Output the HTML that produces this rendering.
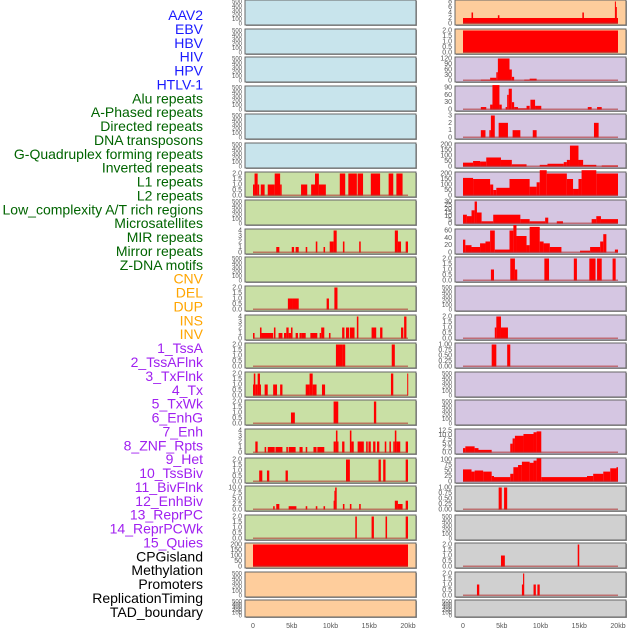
<!DOCTYPE html>
<html><head><meta charset="utf-8"><style>
html,body{margin:0;padding:0;background:#fff;width:630px;height:630px;overflow:hidden}
svg{display:block}
</style></head><body>
<svg id="chart" width="630" height="630" xmlns="http://www.w3.org/2000/svg" font-family="Liberation Sans, sans-serif"></svg>
<script>
// ---- data ----
const trackLabels = ["AAV2","EBV","HBV","HIV","HPV","HTLV-1","Alu repeats","A-Phased repeats","Directed repeats","DNA transposons","G-Quadruplex forming repeats","Inverted repeats","L1 repeats","L2 repeats","Low_complexity A/T rich regions","Microsatellites","MIR repeats","Mirror repeats","Z-DNA motifs","CNV","DEL","DUP","INS","INV","1_TssA","2_TssAFlnk","3_TxFlnk","4_Tx","5_TxWk","6_EnhG","7_Enh","8_ZNF_Rpts","9_Het","10_TssBiv","11_BivFlnk","12_EnhBiv","13_ReprPC","14_ReprPCWk","15_Quies","CPGisland","Methylation","Promoters","ReplicationTiming","TAD_boundary"];
const labelGroups = ["v","v","v","v","v","v","r","r","r","r","r","r","r","r","r","r","r","r","r","s","s","s","s","s","c","c","c","c","c","c","c","c","c","c","c","c","c","c","c","o","o","o","o","o"];
const xTickLabels = ["0","5kb","10kb","15kb","20kb"];
const xTickValues = [0,5,10,15,20];
const emptyTicks = [0,100,200,300,400,500];
// left column tracks: [startKb,endKb,value]
const leftTicks = [null,null,null,null,null,null,[0,0.5,1,1.5,2],null,[0,1,2,3,4],null,[0,0.5,1,1.5,2],[0,1,2,3,4],[0,0.5,1,1.5,2],[0,0.5,1,1.5,2],[0,0.5,1,1.5,2],[0,1,2,3,4],[0,0.5,1,1.5,2],[0,2.5,5,7.5,10],[0,0.5,1,1.5,2],[0,50,100,150,200],null,null];
const leftTickText = [null,null,null,null,null,null,["0.0","0.5","1.0","1.5","2.0"],null,null,null,["0.0","0.5","1.0","1.5","2.0"],null,["0.0","0.5","1.0","1.5","2.0"],["0.0","0.5","1.0","1.5","2.0"],["0.0","0.5","1.0","1.5","2.0"],null,["0.0","0.5","1.0","1.5","2.0"],["0.0","2.5","5.0","7.5","10.0"],["0.0","0.5","1.0","1.5","2.0"],null,null,null];
const leftColors = ["#c8e4ec","#c8e4ec","#c8e4ec","#c8e4ec","#c8e4ec","#c8e4ec","#c9e0a5","#c9e0a5","#c9e0a5","#c9e0a5","#c9e0a5","#c9e0a5","#c9e0a5","#c9e0a5","#c9e0a5","#c9e0a5","#c9e0a5","#c9e0a5","#c9e0a5","#fecd9c","#fecd9c","#fecd9c"];
const leftSegs = [[],[],[],[],[],[],
 [[0,0.2,1],[0.2,0.6,2],[0.6,0.8,1],[1,1.5,1],[1.9,2.8,1],[2.8,3.5,2],[3.5,3.7,1],[6.2,7,1],[7.5,8,1],[8,8.5,2],[8.5,9.4,1],[11.2,11.9,2],[12.3,13.4,2],[13.5,14.2,2],[15.2,16.4,2],[17.5,18.1,2],[18.5,19.3,2]],
 [],
 [[3,3.4,1],[5,5.3,1],[5.5,5.9,1],[6.8,7,1],[8.1,8.3,2],[9.1,9.3,1],[9.9,10.4,2],[10.4,10.8,4],[11.6,11.8,2],[13.7,13.9,2],[18.3,18.7,4],[18.7,19.1,2],[19.7,20,2]],
 [],
 [[4.5,5.1,1],[5.1,5.9,1],[9.5,9.8,1],[10.5,10.9,2]],
 [[0,0.2,1],[0.9,1.1,2],[1.1,2.6,1],[2.7,2.9,2],[3.3,3.8,1],[4,4.3,1],[4.3,4.6,2],[4.6,4.9,1],[4.9,5.1,2],[5.5,5.8,1],[6,6.3,1],[6.3,6.8,1],[7.4,8.3,1],[8.6,8.8,1],[8.8,9.2,2],[9.8,10,1],[11.5,11.8,2],[12,12.4,2],[12.5,13.1,2],[13.4,13.6,4],[15.3,15.9,2],[16.4,16.7,2],[19.1,19.4,2],[19.5,19.8,4]],
 [[10.7,11.6,2],[11.6,11.9,2],[17.9,18.3,2]],
 [[0,0.1,1],[0.1,0.3,2],[0.3,0.6,1],[0.6,0.9,2],[0.9,1,1],[1.5,1.9,1],[2.6,3.1,1],[3.5,3.8,1],[6.8,7.3,1],[7.3,7.7,2],[7.7,8.2,1],[8.9,9.3,1],[17.8,18.1,2],[19.9,20,2]],
 [[4.9,5.4,1],[10.4,11,2],[15.6,15.9,2]],
 [[0.3,0.6,2],[1.5,1.7,1],[1.9,2.8,1],[2.9,3.8,1],[4.3,4.5,1],[4.6,5.5,1],[6,6.4,1],[6.8,7,1],[7.8,8.2,1],[8.3,9.2,1],[10.4,10.7,2],[10.7,10.9,4],[10.9,11,2],[11.5,11.8,2],[12.5,12.7,4],[12.7,13,2],[13.5,14.3,2],[14.6,14.8,2],[14.9,15.2,2],[15.5,15.8,2],[16,16.3,2],[17,17.2,2],[17.6,17.8,2],[18.1,18.3,2],[18.3,18.5,4],[18.5,19,2],[19.7,20,2]],
 [[0.8,1.2,1],[1.8,2.1,1],[4.2,4.5,1],[12,12.5,2],[16.2,16.5,2],[16.8,17.1,2],[19.7,20,2]],
 [[2.6,2.8,1.5],[3,3.4,2.5],[4.6,5.6,1.5],[6.8,7,1.5],[8.1,8.3,1.5],[9.1,9.3,1.5],[10.4,10.5,4],[10.5,10.6,8.5],[10.6,10.8,10],[11.6,11.8,2.5],[12.5,12.7,2.5],[13.7,13.9,2.5],[18.3,18.7,4],[18.7,19.3,2.5],[19.7,20,4]],
 [[13.2,13.4,2],[15.3,15.6,2],[17.1,17.3,2],[19.7,20,2]],
 [[0,20,200]],[],[]];
// right column tracks
const rightTicks = [[0,2,4,6,8],[0,0.5,1,1.5,2],[0,30,60,90,120],[0,30,60,90],[0,1,2,3],[0,50,100,150,200],[0,50,100,150,200],[0,5,10,15,20,25,30],[0,20,40,60],[0,0.5,1,1.5,2],null,[0,0.5,1,1.5,2],[0,0.25,0.5,0.75,1],null,null,[0,2.5,5,7.5,10,12.5],[0,25,50,75,100],[0,0.25,0.5,0.75,1],null,[0,0.5,1,1.5,2],[0,0.5,1,1.5,2],null];
const rightTickText = [null,["0.0","0.5","1.0","1.5","2.0"],null,null,null,null,null,null,null,["0.0","0.5","1.0","1.5","2.0"],null,["0.0","0.5","1.0","1.5","2.0"],["0.00","0.25","0.50","0.75","1.00"],null,null,["0.0","2.5","5.0","7.5","10.0","12.5"],null,["0.00","0.25","0.50","0.75","1.00"],null,["0.0","0.5","1.0","1.5","2.0"],["0.0","0.5","1.0","1.5","2.0"],null];
const rightColors = ["#fecd9c","#fecd9c","#d5c6e2","#d5c6e2","#d5c6e2","#d5c6e2","#d5c6e2","#d5c6e2","#d5c6e2","#d5c6e2","#d5c6e2","#d5c6e2","#d5c6e2","#d5c6e2","#d5c6e2","#d5c6e2","#d5c6e2","#d0d0d0","#d0d0d0","#d0d0d0","#d0d0d0","#d0d0d0"];
const rightSegs = [
 [[0,20,2],[1.1,1.3,4],[4.5,4.7,3],[15.4,15.6,4],[19.6,19.7,8],[19.7,19.85,6]],
 [[0,20,2]],
 [[2.3,3.5,5],[3.5,4.3,15],[4.3,4.5,45],[4.5,6,120],[6,6.3,60],[6.3,6.6,20],[7.9,8.6,5],[8.6,9.5,10]],
 [[2.3,3,10],[3.5,3.8,20],[3.8,4.7,100],[4.7,5,20],[5.5,5.7,10],[5.7,5.9,60],[5.9,6.3,85],[6.3,6.6,30],[6.6,7.1,10],[7.1,8.2,5],[8.2,8.6,15],[8.7,9.3,40],[9.3,10.1,15],[16.1,16.6,10],[17.3,17.9,10]],
 [[2.3,2.9,1],[3.4,3.6,1],[3.6,4.1,3],[4.6,5.8,2],[6.4,7.4,1],[9,9.5,1],[16.9,17.5,2]],
 [[0,1.3,35],[1.3,2.2,50],[2.2,3,45],[3,4.9,82],[4.9,6.3,60],[6.3,8.2,20],[9.9,10.9,15],[10.9,13,25],[13,13.4,40],[13.4,13.8,60],[13.8,14.9,190],[14.9,15.5,60],[15.5,17.2,15],[17.9,20,10]],
 [[0,1.3,160],[1.3,3.5,150],[3.5,3.9,100],[3.9,4.3,50],[4.3,6,70],[6,8.6,150],[8.6,9.5,80],[9.5,9.9,120],[9.9,10.8,230],[10.8,13.4,200],[13.4,14.2,150],[14.2,14.9,60],[14.9,15.3,150],[15.3,17.2,230],[17.2,20,200]],
 [[0,0.5,12],[0.5,1.1,10],[1.1,1.5,18],[1.5,1.8,30],[1.8,2.4,15],[2.4,3.9,3],[3.9,7.4,12],[7.4,8.6,6],[8.6,10.6,3],[10.6,11,8],[12.1,12.9,3],[16.6,17.2,6],[17.2,17.8,10],[17.8,20,6]],
 [[0,0.3,35],[0.3,1.1,20],[1.1,2.2,15],[2.2,2.9,25],[2.9,3.5,30],[3.5,4.1,60],[4.1,6,8],[6,6.5,60],[6.5,6.9,75],[6.9,8.2,45],[8.2,8.6,20],[8.6,9.9,70],[9.9,10.4,30],[10.4,11.2,25],[11.2,12.7,15],[15.1,16.4,5],[16.4,17.7,15],[17.7,18.1,30],[18.1,18.5,50],[19.6,20,8]],
 [[3.6,4,1],[6.1,6.7,2],[6.7,7,1],[10.5,11.1,2],[14.3,14.7,2],[16.3,17.1,2],[17.3,17.9,2],[19.3,19.7,2]],
 [],
 [[4.1,4.3,1],[4.3,4.9,2],[4.9,5.8,1]],
 [[3.7,4.3,1],[5.7,6.1,1]],
 [],[],
 [[0,0.3,2.5],[0.3,1.5,3.5],[1.5,2,2.5],[2,3.7,1.5],[6.1,6.4,5],[6.4,6.7,8],[6.7,7.8,9.5],[7.8,9.1,10.5],[9.1,9.5,11.5],[9.5,10.1,12]],
 [[0,1.1,55],[1.1,1.5,45],[1.5,2.6,50],[2.6,3.7,45],[3.7,4,25],[4,6.1,20],[6.1,6.5,35],[6.5,7.1,65],[7.1,7.6,75],[7.6,8.6,90],[8.6,9.1,85],[9.1,9.5,95],[9.5,10.1,105],[10.1,16,20],[16,16.8,25],[16.8,18.1,35],[18.1,19,45],[19,19.8,60],[19.8,20,65]],
 [[4.6,5,1],[5.3,5.7,1]],
 [],
 [[4.9,5.4,1],[14.8,15,2]],
 [[1.8,2.1,1],[7.6,7.8,1],[7.75,7.9,2],[9.1,9.4,1],[9.6,9.9,1]],
 []];

// ---- layout ----
const NS = "http://www.w3.org/2000/svg";
const svg = document.getElementById("chart");
const rowTops = [];
for (let i = 0; i < 22; i++) rowTops.push(i < 21 ? Math.round(i * 28.6) : 600);
function rowHeight(i){ return i < 21 ? 25 : 17; }
const groupColor = {v:"#1a1aff", r:"#006400", s:"#ffa500", c:"#a020f0", o:"#000000"};
function mk(tag, attrs, parent){ const e=document.createElementNS(NS,tag); for(const k in attrs) e.setAttribute(k,attrs[k]); (parent||svg).appendChild(e); return e; }

// labels
trackLabels.forEach((t,i)=>{
  const e = mk("text",{x:203,y:20+i*13.88,"text-anchor":"end","font-size":"14",fill:groupColor[labelGroups[i]]});
  e.textContent = t;
  
  
});

function fmt(v){ return String(v); }

function drawColumn(px, ticksArr, textArr, colors, segsArr, colName){
  const pw = 171, x0 = px + 8, kbScale = 7.75;
  const xScale = kb => x0 + kb * kbScale;
  for (let i = 0; i < 22; i++){
    const top = rowTops[i], h = rowHeight(i);
    const g = mk("g",{});
    
    
    mk("rect",{x:px+1,y:top+1,width:pw,height:h,fill:"#999"},g);
    mk("rect",{x:px,y:top,width:pw,height:h,fill:colors[i],stroke:"#666","stroke-width":1},g);
    const ticks = ticksArr[i] || emptyTicks;
    const ymax = ticks[ticks.length-1];
    const yb = top + h - 1.5, yt = top + 1.5;
    const yScale = v => yb - (v / ymax) * (yb - yt);
    ticks.forEach((t,k)=>{
      const lab = mk("text",{x:px-3,y:yScale(t)+2,"text-anchor":"end","font-size":ticksArr[i]?"7":"6",fill:"#555"},g);
      lab.textContent = (textArr[i] ? textArr[i][k] : fmt(t));
      
      
    });
    const segs = segsArr[i];
    if (segs.length){
      segs.forEach(s=>{
        const b = mk("rect",{x:xScale(s[0]),y:yScale(s[2]),width:Math.max(1,xScale(s[1])-xScale(s[0])),height:yb-yScale(s[2]),fill:"#ff0000"},g);
        
        
      });
      const base = mk("rect",{x:xScale(0),y:yb-1,width:xScale(20)-xScale(0),height:1.5,fill:"#b03030","fill-opacity":"0.6"},g);
      
      
    }
  }
  xTickValues.forEach((v,k)=>{
    const t = mk("text",{x:xScale(v),y:628,"text-anchor":"middle","font-size":"7",fill:"#555"});
    t.textContent = xTickLabels[k];
    
    
  });
}
drawColumn(245, leftTicks, leftTickText, leftColors, leftSegs, "left");
drawColumn(455, rightTicks, rightTickText, rightColors, rightSegs, "right");
</script>
</body></html>
